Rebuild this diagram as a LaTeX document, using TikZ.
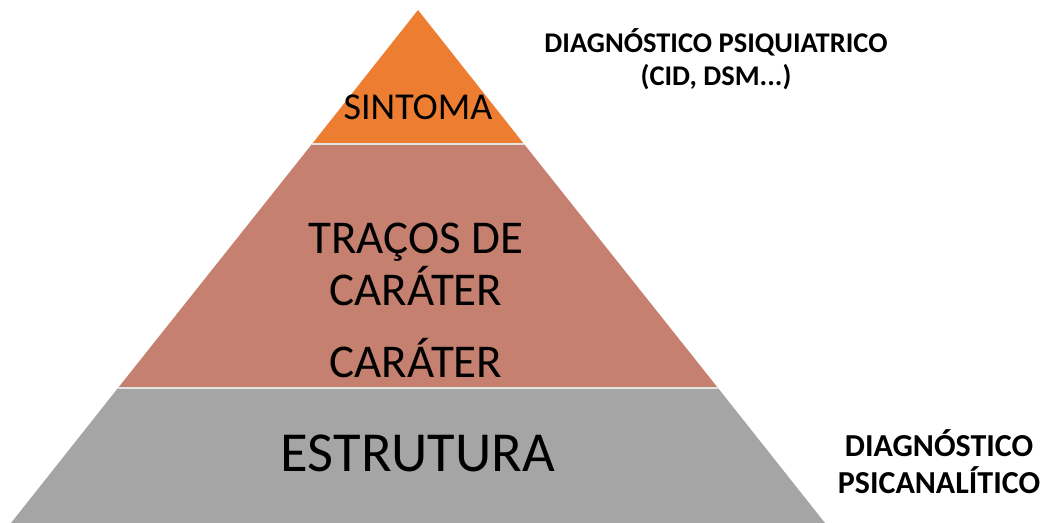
\documentclass[tikz,border=0pt]{standalone}
\usepackage{fontspec}
\setmainfont{Carlito}
\definecolor{topc}{HTML}{ED7D31}
\definecolor{midc}{HTML}{C5806F}
\definecolor{botc}{HTML}{A5A5A5}
\definecolor{sepc}{HTML}{E4E4E4}
\begin{document}
\begin{tikzpicture}[x=1pt,y=-1pt,
  lvl/.style={anchor=base,inner sep=0pt,text=black},
  side/.style={align=center,inner sep=0pt,text=black,font=\bfseries\fontsize{28.5}{33}\selectfont}]
\useasboundingbox (0,0) rectangle (1046,522);
% pyramid bands
\begin{scope}
\clip (0,0) rectangle (1046,522);
\fill[botc] (118,388) -- (718,388) -- (825,523) -- (11,523) -- cycle;
\fill[midc] (312,144) -- (524,144) -- (718,388) -- (118,388) -- cycle;
\fill[topc] (418,10) -- (524,144) -- (312,144) -- cycle;
\draw[draw=sepc,line width=1.5pt] (312,144) -- (524,144);
\draw[draw=sepc,line width=1.5pt] (118,388) -- (718,388);
\end{scope}
% labels
\node[lvl,font=\fontsize{38}{44}\selectfont] (sintoma) at (418,119) {SINTOMA};
\node[lvl,font=\fontsize{47}{54}\selectfont] (tracos) at (416,253) {TRAÇOS DE};
\node[lvl,font=\fontsize{47}{54}\selectfont] (carater1) at (416,305) {CARÁTER};
\node[lvl,font=\fontsize{47}{54}\selectfont] (carater2) at (416,377) {CARÁTER};
\node[lvl,font=\fontsize{56.5}{66}\selectfont] (estrutura) at (418,471) {ESTRUTURA};
\node[side] (psiq) at (716,59) {DIAGNÓSTICO PSIQUIATRICO\\(CID, DSM...)};
\node[side,font=\bfseries\fontsize{32}{37}\selectfont] (psican) at (939,462) {DIAGNÓSTICO\\PSICANALÍTICO};
\end{tikzpicture}
\end{document}
